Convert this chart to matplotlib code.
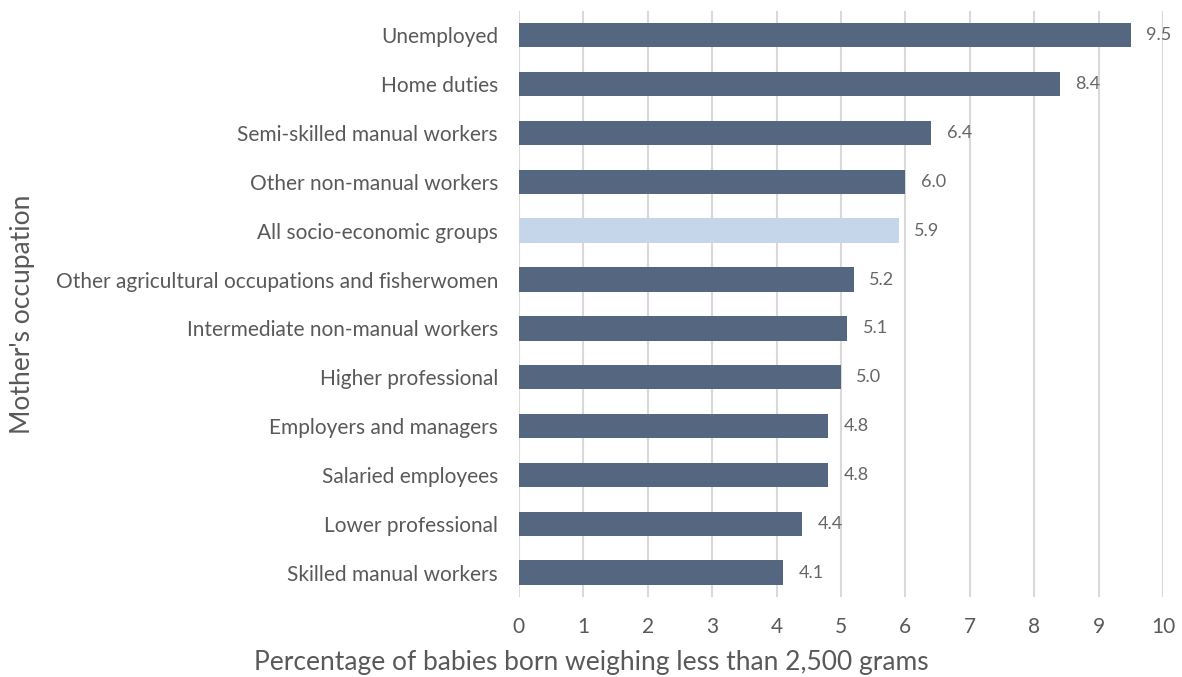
import matplotlib.pyplot as plt

# 데이터
occupations = [
    "Unemployed",
    "Home duties",
    "Semi-skilled manual workers",
    "Other non-manual workers",
    "All socio-economic groups",
    "Other agricultural occupations and fisherwomen",
    "Intermediate non-manual workers",
    "Higher professional",
    "Employers and managers",
    "Salaried employees",
    "Lower professional",
    "Skilled manual workers",
]
values = [9.5, 8.4, 6.4, 6.0, 5.9, 5.2, 5.1, 5.0, 4.8, 4.8, 4.4, 4.1]
highlight = "All socio-economic groups"

plt.rcParams['font.family'] = ['Lato', 'DejaVu Sans']

fig = plt.figure(figsize=(11.82, 6.77), dpi=100)
ax = fig.add_axes([0.439, 0.118, 0.545, 0.866])

colors = ['#c5d5ea' if o == highlight else '#556680' for o in occupations]
ypos = list(range(len(occupations)))
ax.barh(ypos, values, height=0.5, color=colors, zorder=3)

# 값 라벨
for y, v in zip(ypos, values):
    ax.text(v + 0.24, y, f"{v:.1f}", va='center', ha='left', fontsize=13, color='#666666')

ax.set_ylim(len(occupations) - 0.5, -0.5)
ax.set_xlim(0, 10)
ax.set_xticks(range(0, 11))
ax.set_yticks(ypos)
ax.set_yticklabels(occupations)
ax.tick_params(axis='y', length=0, pad=15, labelsize=15, labelcolor='#595959')
ax.tick_params(axis='x', length=0, pad=14, labelsize=15, labelcolor='#595959')

ax.grid(axis='x', color='#d9d9d9', linewidth=1.5, zorder=0)
for s in ax.spines.values():
    s.set_visible(False)

fig.text(0.5, 0.022, "Percentage of babies born weighing less than 2,500 grams",
         ha='center', va='center', fontsize=19, color='#595959')
fig.text(0.019, 0.535, "Mother's occupation", rotation=90, va='center', ha='center',
         fontsize=19, color='#595959')

plt.savefig('out.png')
